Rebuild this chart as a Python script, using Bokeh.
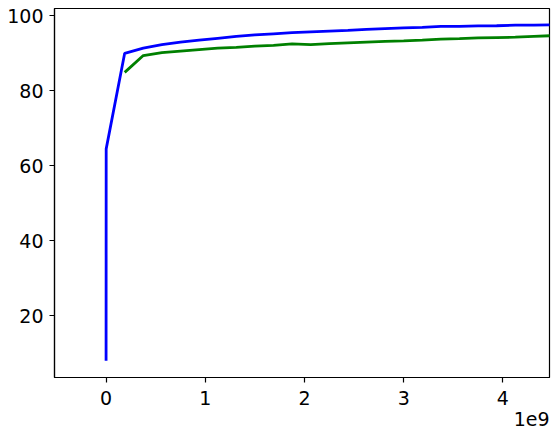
from bokeh.plotting import figure
from bokeh.models import FixedTicker, Range1d, Title
from bokeh.embed import file_html
from bokeh.resources import INLINE

# x positions (raw units, shown in 1e9)
blue_x = [0, 0.001e9, 0.1875e9, 0.375e9, 0.5625e9, 0.75e9, 0.9375e9, 1.125e9, 1.3125e9,
          1.5e9, 1.6875e9, 1.875e9, 2.0625e9, 2.25e9, 2.4375e9, 2.625e9, 2.8125e9,
          3.0e9, 3.1875e9, 3.375e9, 3.5625e9, 3.75e9, 3.9375e9, 4.125e9, 4.3125e9, 4.5e9]
blue_y = [8.0, 64.5, 90.0, 91.4, 92.3, 93.0, 93.5, 94.0, 94.5,
          94.9, 95.2, 95.5, 95.7, 95.9, 96.1, 96.4, 96.6,
          96.8, 96.9, 97.2, 97.2, 97.3, 97.35, 97.5, 97.5, 97.6]

green_x = [0.1875e9, 0.375e9, 0.5625e9, 0.75e9, 0.9375e9, 1.125e9, 1.3125e9,
           1.5e9, 1.6875e9, 1.875e9, 2.0625e9, 2.25e9, 2.4375e9, 2.625e9, 2.8125e9,
           3.0e9, 3.1875e9, 3.375e9, 3.5625e9, 3.75e9, 3.9375e9, 4.125e9, 4.3125e9, 4.5e9]
green_y = [84.9, 89.4, 90.2, 90.6, 91.0, 91.4, 91.6,
           91.9, 92.1, 92.5, 92.3, 92.6, 92.8, 93.0, 93.2,
           93.3, 93.5, 93.8, 93.9, 94.1, 94.2, 94.3, 94.5, 94.7]

x_ticks = [0, 1e9, 2e9, 3e9, 4e9]
x_tick_labels = ["0", "1", "2", "3", "4"]
y_ticks = [20, 40, 60, 80, 100]

FONT = "DejaVu Sans"
FS = "19px"

p = figure(width=558, height=436, output_backend="svg", toolbar_location=None,
           x_range=Range1d(-0.52e9, 4.47e9), y_range=Range1d(3.5, 101.95),
           min_border_left=54, min_border_right=9, min_border_top=8, min_border_bottom=59)

p.line(green_x, green_y, line_color="#008000", line_width=2.8)
p.line(blue_x, blue_y, line_color="#0000ff", line_width=2.8)

p.grid.visible = False
p.outline_line_color = "black"
p.outline_line_width = 1.2

for ax in (p.xaxis[0], p.yaxis[0]):
    ax.axis_line_color = "black"
    ax.axis_line_width = 1.2
    ax.major_tick_line_color = "black"
    ax.major_tick_line_width = 1.2
    ax.major_tick_in = 0
    ax.major_tick_out = 5
    ax.minor_tick_line_color = None
    ax.major_label_text_font = FONT
    ax.major_label_text_font_size = FS
    ax.major_label_text_color = "black"

p.xaxis.ticker = FixedTicker(ticks=x_ticks)
p.xaxis.major_label_overrides = {t: l for t, l in zip(x_ticks, x_tick_labels)}
p.xaxis.major_label_standoff = 8
p.yaxis.ticker = FixedTicker(ticks=y_ticks)
p.yaxis.major_label_standoff = 6

offset = Title(text="1e9", align="right", text_font=FONT, text_font_size=FS,
               text_font_style="normal", text_color="black", offset=0, standoff=4)
p.add_layout(offset, "below")

open("out.html", "w").write(file_html(p, INLINE))
